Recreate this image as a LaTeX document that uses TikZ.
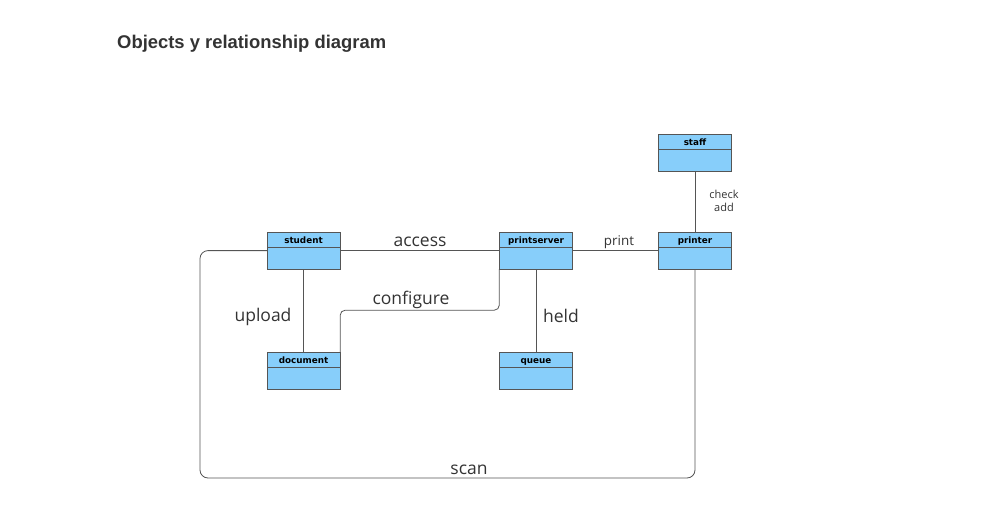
\documentclass[tikz,border=0pt]{standalone}
\usepackage{fontspec}
\setmainfont{Open Sans}
\newfontfamily\arialfont{Liberation Sans}
\newfontfamily\boxfont{DejaVu Sans}
\usetikzlibrary{shapes.multipart}
\definecolor{boxblue}{RGB}{135,206,250}
\definecolor{linegray}{RGB}{85,85,85}
\definecolor{textgray}{RGB}{51,51,51}

\begin{document}
\begin{tikzpicture}
  [x=1pt,y=-1pt,
   classbox/.style={rectangle split,rectangle split parts=2,draw=linegray,fill=boxblue,
     minimum width=73pt,inner xsep=0pt,inner ysep=0pt,anchor=north,
     font=\boxfont\bfseries\fontsize{8.8}{10}\selectfont},
   rel/.style={font=\fontsize{17.5}{20}\selectfont,text=textgray,inner sep=0pt},
   link/.style={draw=linegray,line width=0.8pt}]
  \useasboundingbox (0,0) rectangle (991,511);
  \node[anchor=west,inner sep=0pt,text=textgray,font=\arialfont\bfseries\fontsize{18.4}{22}\selectfont] (title) at (117,44) {Objects y relationship diagram};
  % class boxes
  \node[classbox] (student) at (303.5,232) {\rule[-4pt]{0pt}{15pt}student\nodepart{two}\rule{0pt}{21pt}};
  \node[classbox] (printserver) at (536,232) {\rule[-4pt]{0pt}{15pt}printserver\nodepart{two}\rule{0pt}{21pt}};
  \node[classbox] (printer) at (695,232) {\rule[-4pt]{0pt}{15pt}printer\nodepart{two}\rule{0pt}{21pt}};
  \node[classbox] (staff) at (695,134) {\rule[-4pt]{0pt}{15pt}staff\nodepart{two}\rule{0pt}{21pt}};
  \node[classbox] (document) at (303.5,352) {\rule[-4pt]{0pt}{15pt}document\nodepart{two}\rule{0pt}{21pt}};
  \node[classbox] (queue) at (536,352) {\rule[-4pt]{0pt}{15pt}queue\nodepart{two}\rule{0pt}{21pt}};
  % relationships
  \foreach \from/\to in {student.east/printserver.west,printserver.east/printer.west,
      student.south/document.north,printserver.south/queue.north,staff.south/printer.north}
    \draw[link] (\from) -- (\to);
  \draw[link,rounded corners=5pt] (printserver.south west) -- ++(0,41) -| (document.north east);
  \coordinate (scanc) at (200,478);
  \draw[link,rounded corners=8pt] (student.west) -| (scanc) -| (printer.south);
  % labels
  \node[rel] (access) at (420,242) {access};
  \node[rel,font=\fontsize{13.4}{15}\selectfont] (print) at (619,242) {print};
  \node[rel] (configure) at (411,300) {configure};
  \node[rel] (upload) at (263,317) {upload};
  \node[rel] (held) at (561,316) {held};
  \node[rel,font=\fontsize{11}{13.5}\selectfont,align=center] (checkadd) at (724,201) {check\\add};
  \node[rel] (scan) at (469,470) {scan};
\end{tikzpicture}
\end{document}
